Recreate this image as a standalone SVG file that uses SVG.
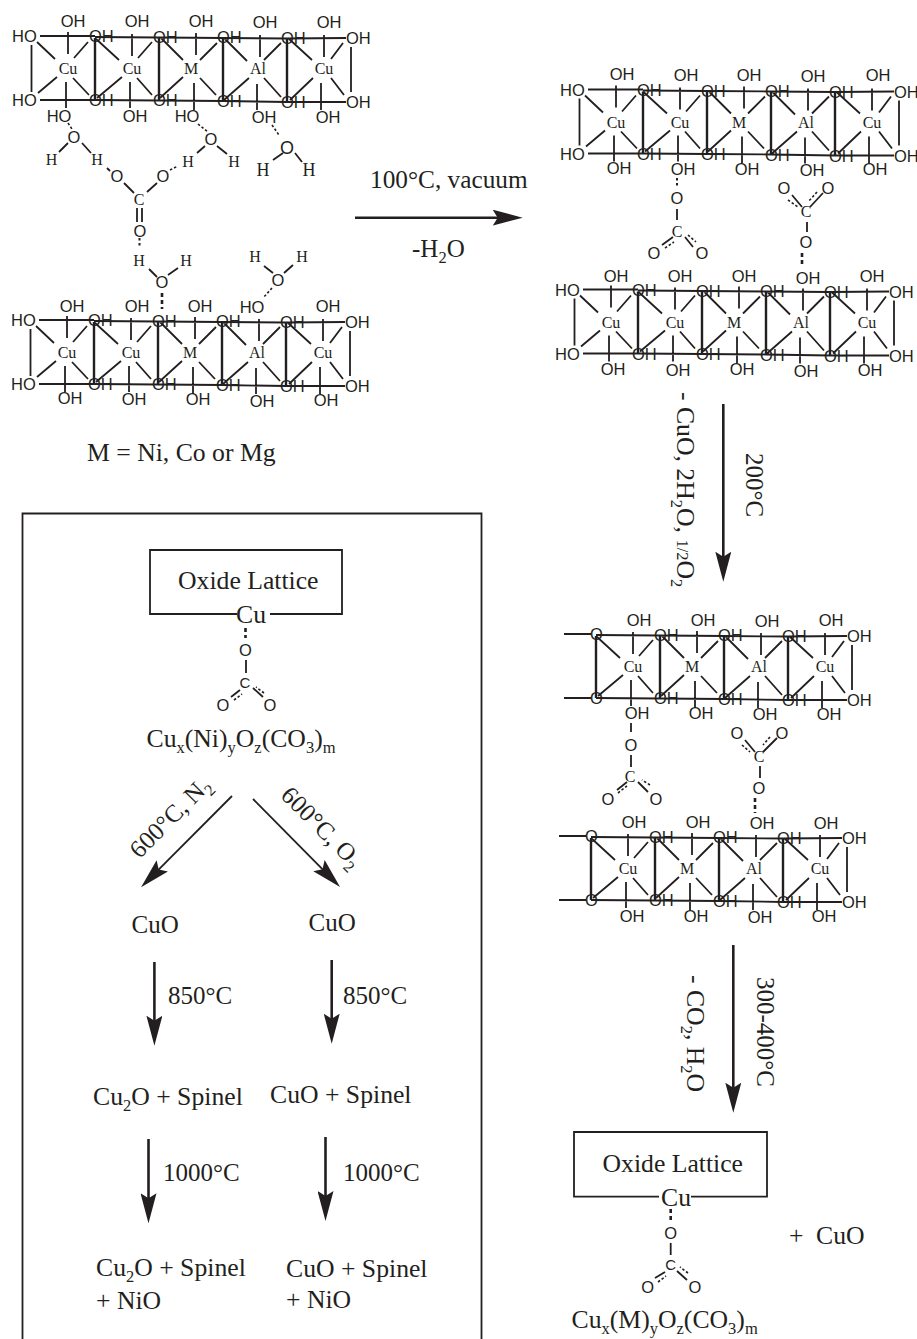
<svg xmlns="http://www.w3.org/2000/svg" xmlns:xlink="http://www.w3.org/1999/xlink" width="917" height="1339" viewBox="0 0 917 1339">
<style>
text{fill:#231f20}
.s{font-family:"Liberation Sans",Arial,sans-serif;font-size:16.5px}
.r{font-family:"Liberation Serif","Times New Roman",serif;font-size:16px}
.L{font-family:"Liberation Serif","Times New Roman",serif;font-size:25px}
.W{font-size:25.7px}
.sm{font-size:16.5px}
.m{text-anchor:middle}
.b{fill:none;stroke:#231f20;stroke-width:1.8}
.t{fill:none;stroke:#231f20;stroke-width:2.4}
.d{fill:none;stroke:#231f20;stroke-width:2;stroke-dasharray:2.5 2.5}
.dd{fill:none;stroke:#231f20;stroke-width:2.6;stroke-dasharray:4 3}
.f{fill:none;stroke:#231f20;stroke-width:1.6;stroke-dasharray:2.5 2}
.a{fill:none;stroke:#231f20;stroke-width:2.6;marker-end:url(#head)}
.a2{fill:none;stroke:#231f20;stroke-width:1.8;marker-end:url(#head)}
.box{fill:none;stroke:#231f20;stroke-width:1.8}
</style>
<defs>
<marker id="head" markerUnits="userSpaceOnUse" viewBox="0 0 30 16" refX="8" refY="8" markerWidth="30" markerHeight="16" orient="auto"><path d="M0 0L30 8L0 16L5 8Z" fill="#231f20"/></marker>
<g id="cell1" class="b">
<path d="M40 36H95M40 100H95M31.5 45V92M68 32V54M66 82V108M37 42L55 59M88 42L74 58M38 93L57 77M89 95L73 78"/>
</g>
<g id="stubs" class="b"><path d="M63 36H90M63 100H90"/></g>
<g id="cells">
<path class="b" d="M95 37L159 37.5L223 38L287 38.5L346 38M95 100L159 100.5L223 101L287 102L346 102M351 47V92M132 34V56M196 33V55M260 35V57M324 35V57M130 82V108M194 83V110M257 84V110M321 83V110M95 38L119 60M152 42L138 58M97 98L122 77M152 95L137 78M161 38L183 60M217 43L200 60M160 98L183 77M216 95L200 78M224 38L247 61M281 43L264 60M224 100L249 78M281 97L264 78M288 38L312 60M343 43L331 59M290 100L313 78M344 95L331 78"/>
<path class="t" d="M95 38V100M159 38V100M223 38V101M287 38V102"/>
</g>
</defs>
<rect width="917" height="1339" fill="#fff"/>

<g id="connectors">
<path class="a" d="M355 217.7H500.7"/>
<path class="a" d="M723.3 404V559.7"/>
<path class="a" d="M733.3 945V1090.7"/>
<path class="a2" d="M232 796L156.6 871.6"/>
<path class="a2" d="M253 799L324.6 871.4"/>
<path class="a" d="M154.4 962V1023.7"/>
<path class="a" d="M331.7 960V1021.7"/>
<path class="a" d="M148.5 1139V1201.3"/>
<path class="a" d="M325.5 1137V1199"/>
<!-- water and carbonate bonds, first stage -->
<path class="f" d="M68 123L72 129M198 124L208 132M170 170L178 166M272 125L279 135"/>
<path class="b" d="M59 152L68 143M82 143L91 153M107 168L110 171M124 183L134 193M147 192L157 183M197 153L205 146M217 146L227 154M273 160L283 153M295 153L302 162M137 208V222M142 208V222"/>
<path class="d" d="M139.5 238V247"/>
<path class="b" d="M149 269L157 277M168 275L178 268M264 266L273 273M284 273L293 265"/>
<path class="dd" d="M162 293V309"/>
<path class="f" d="M272 288L263 298"/>
<!-- second stage -->
<path class="d" d="M677 178V186"/>
<path class="b" d="M677 209V220M662 245L673 237M685 237L693 247"/>
<path class="f" d="M665 248L674 242M688 235L696 242"/>
<path class="b" d="M792 195L802 207M823 193L810 207M807 222V232"/>
<path class="f" d="M788 200L798 207M817 192L808 202"/>
<path class="dd" d="M802 253V267"/>
<!-- third stage -->
<path class="b" d="M631 723V732M631 755V767M617 790L627 782M648 792L638 782"/>
<path class="f" d="M618 793L627 786M650 785L642 780"/>
<path class="b" d="M745 740L755 752M777 738L763 752M760 766V778"/>
<path class="f" d="M742 745L750 752M770 737L763 745"/>
<path class="dd" d="M755 798V813"/>
<!-- oxide carbonate, boxed -->
<path class="dd" d="M245.5 628V638"/>
<path class="b" d="M246 660V673M231 697L240 690M263 697L253 688"/>
<path class="f" d="M234 700L242 694M264 693L256 687"/>
<!-- oxide carbonate, bottom -->
<path class="dd" d="M670.7 1209V1220"/>
<path class="b" d="M670.7 1243V1255M655 1278L665 1272M687 1280L677 1271"/>
<path class="f" d="M658 1282L666 1276M688 1273L680 1267"/>
</g>

<g id="lattice-1">
<use href="#cell1"/><use href="#cells"/>
<g class="s"><text x="12" y="42">HO</text><text x="12" y="106">HO</text>
<text x="89" y="42">OH</text><text x="153" y="43">OH</text><text x="217" y="43">OH</text><text x="281" y="44">OH</text><text x="346" y="44">OH</text>
<text x="89" y="106">OH</text><text x="153" y="106">OH</text><text x="217" y="107">OH</text><text x="281" y="108">OH</text><text x="346" y="108">OH</text>
<text class="m" x="73" y="27">OH</text><text class="m" x="137" y="27">OH</text><text class="m" x="201" y="27">OH</text><text class="m" x="265" y="28">OH</text><text class="m" x="329" y="28">OH</text>
<text class="m" x="59" y="122">HO</text><text class="m" x="135" y="122">OH</text><text class="m" x="187" y="122">HO</text><text class="m" x="264" y="123">OH</text><text class="m" x="328" y="123">OH</text></g>
<g class="r"><text class="m" x="68" y="74">Cu</text><text class="m" x="132" y="74">Cu</text><text class="m" x="191" y="74">M</text><text class="m" x="258" y="74">Al</text><text class="m" x="324" y="74">Cu</text></g>
</g>

<g id="lattice-2" transform="translate(-1 284)">
<use href="#cell1"/><use href="#cells"/>
<g class="s"><text x="12" y="42">HO</text><text x="12" y="106">HO</text>
<text x="89" y="42">OH</text><text x="153" y="43">OH</text><text x="217" y="43">OH</text><text x="281" y="44">OH</text><text x="346" y="44">OH</text>
<text x="89" y="106">OH</text><text x="153" y="106">OH</text><text x="217" y="107">OH</text><text x="281" y="108">OH</text><text x="346" y="108">OH</text>
<text class="m" x="73" y="28">OH</text><text class="m" x="138" y="28">OH</text><text class="m" x="201" y="28">OH</text><text class="m" x="253" y="29">HO</text><text class="m" x="329" y="28">OH</text>
<text class="m" x="71" y="120">OH</text><text class="m" x="135" y="121">OH</text><text class="m" x="199" y="121">OH</text><text class="m" x="263" y="123">OH</text><text class="m" x="327" y="122">OH</text></g>
<g class="r"><text class="m" x="68" y="74">Cu</text><text class="m" x="132" y="74">Cu</text><text class="m" x="191" y="74">M</text><text class="m" x="258" y="74">Al</text><text class="m" x="324" y="74">Cu</text></g>
</g>

<g id="lattice-3" transform="translate(548 53.5)">
<use href="#cell1"/><use href="#cells"/>
<g class="s"><text x="12" y="42">HO</text><text x="12" y="106">HO</text>
<text x="89" y="42">OH</text><text x="153" y="43">OH</text><text x="217" y="43">OH</text><text x="281" y="44">OH</text><text x="346" y="44">OH</text>
<text x="89" y="106">OH</text><text x="153" y="106">OH</text><text x="217" y="107">OH</text><text x="281" y="108">OH</text><text x="346" y="108">OH</text>
<text class="m" x="74" y="26">OH</text><text class="m" x="138" y="27">OH</text><text class="m" x="201" y="27">OH</text><text class="m" x="265" y="28">OH</text><text class="m" x="330" y="27">OH</text>
<text class="m" x="71" y="120">OH</text><text class="m" x="135" y="121">OH</text><text class="m" x="199" y="121">OH</text><text class="m" x="264" y="122">OH</text><text class="m" x="327" y="121">OH</text></g>
<g class="r"><text class="m" x="68" y="74">Cu</text><text class="m" x="132" y="74">Cu</text><text class="m" x="191" y="74">M</text><text class="m" x="258" y="74">Al</text><text class="m" x="324" y="74">Cu</text></g>
</g>

<g id="lattice-4" transform="translate(543 253.5)">
<use href="#cell1"/><use href="#cells"/>
<g class="s"><text x="12" y="42">HO</text><text x="12" y="106">HO</text>
<text x="89" y="42">OH</text><text x="153" y="43">OH</text><text x="217" y="43">OH</text><text x="281" y="44">OH</text><text x="346" y="44">OH</text>
<text x="89" y="106">OH</text><text x="153" y="106">OH</text><text x="217" y="107">OH</text><text x="281" y="108">OH</text><text x="346" y="108">OH</text>
<text class="m" x="73" y="28">OH</text><text class="m" x="137" y="28">OH</text><text class="m" x="201" y="28">OH</text><text class="m" x="265" y="30">OH</text><text class="m" x="329" y="28">OH</text>
<text class="m" x="70" y="121">OH</text><text class="m" x="135" y="122">OH</text><text class="m" x="199" y="121">OH</text><text class="m" x="263" y="123">OH</text><text class="m" x="327" y="122">OH</text></g>
<g class="r"><text class="m" x="68" y="74">Cu</text><text class="m" x="132" y="74">Cu</text><text class="m" x="191" y="74">M</text><text class="m" x="258" y="74">Al</text><text class="m" x="324" y="74">Cu</text></g>
</g>

<g id="lattice-5" transform="translate(501 598)">
<use href="#stubs"/><use href="#cells"/>
<g class="s"><text x="89" y="42">O</text><text x="153" y="43">OH</text><text x="217" y="43">OH</text><text x="281" y="44">OH</text><text x="346" y="44">OH</text>
<text x="89" y="106">O</text><text x="153" y="106">OH</text><text x="217" y="107">OH</text><text x="281" y="108">OH</text><text x="346" y="108">OH</text>
<text class="m" x="138" y="28">OH</text><text class="m" x="202" y="28">OH</text><text class="m" x="266" y="29">OH</text><text class="m" x="330" y="28">OH</text>
<text class="m" x="136" y="121">OH</text><text class="m" x="200" y="121">OH</text><text class="m" x="264" y="122">OH</text><text class="m" x="328" y="122">OH</text></g>
<g class="r"><text class="m" x="132" y="74">Cu</text><text class="m" x="191" y="74">M</text><text class="m" x="258" y="74">Al</text><text class="m" x="324" y="74">Cu</text></g>
</g>

<g id="lattice-6" transform="translate(496 800)">
<use href="#stubs"/><use href="#cells"/>
<g class="s"><text x="89" y="42">O</text><text x="153" y="43">OH</text><text x="217" y="43">OH</text><text x="281" y="44">OH</text><text x="346" y="44">OH</text>
<text x="89" y="106">O</text><text x="153" y="106">OH</text><text x="217" y="107">OH</text><text x="281" y="108">OH</text><text x="346" y="108">OH</text>
<text class="m" x="138" y="28">OH</text><text class="m" x="202" y="28">OH</text><text class="m" x="266" y="29">OH</text><text class="m" x="330" y="29">OH</text>
<text class="m" x="136" y="122">OH</text><text class="m" x="200" y="122">OH</text><text class="m" x="264" y="123">OH</text><text class="m" x="328" y="122">OH</text></g>
<g class="r"><text class="m" x="132" y="74">Cu</text><text class="m" x="191" y="74">M</text><text class="m" x="258" y="74">Al</text><text class="m" x="324" y="74">Cu</text></g>
</g>

<g id="water-carbonate-1">
<g class="s"><text class="m" x="74" y="143">O</text><text class="m" x="117" y="182">O</text><text class="m" x="163" y="182">O</text><text class="m" x="211" y="145">O</text><text class="m" x="140" y="237">O</text><text class="m" x="162" y="288">O</text><text class="m" x="278" y="286">O</text><text class="m" x="287" y="154" style="font-size:18px">O</text></g>
<g class="r"><text class="m" x="51.5" y="165">H</text><text class="m" x="97" y="165">H</text><text class="m" x="139" y="205">C</text><text class="m" x="188" y="167">H</text><text class="m" x="234" y="167">H</text><text class="m" x="139" y="266">H</text><text class="m" x="186" y="266">H</text><text class="m" x="255" y="262">H</text><text class="m" x="302" y="262">H</text>
<text class="m" x="263" y="176" style="font-size:18px">H</text><text class="m" x="309" y="176" style="font-size:18px">H</text></g>
</g>

<g id="carbonates-2">
<g class="s"><text class="m" x="677" y="204">O</text><text class="m" x="654" y="259">O</text><text class="m" x="702" y="259">O</text><text class="m" x="784" y="194">O</text><text class="m" x="828" y="194">O</text><text class="m" x="806" y="248">O</text></g>
<g class="r"><text class="m" x="677" y="237">C</text><text class="m" x="806" y="217">C</text></g>
</g>
<g id="carbonates-3">
<g class="s"><text class="m" x="631" y="751">O</text><text class="m" x="608" y="805">O</text><text class="m" x="656" y="805">O</text><text class="m" x="737" y="739">O</text><text class="m" x="782" y="739">O</text><text class="m" x="759" y="794">O</text></g>
<g class="r"><text class="m" x="630" y="782">C</text><text class="m" x="759" y="762">C</text></g>
</g>

<g id="label-100C"><text class="L" x="370" y="188" style="font-size:25.3px">100°C, vacuum</text></g>
<g id="label-h2o"><text class="L" x="412" y="257">-H<tspan class="sm" dy="6">2</tspan><tspan dy="-6">O</tspan></text></g>
<g id="label-M"><text class="L W" x="87" y="461">M = Ni, Co or Mg</text></g>
<g id="label-200"><text class="L" transform="translate(746 453) rotate(90)">200°C</text></g>
<g id="label-200b"><text class="L W" transform="translate(677 392) rotate(90)">- CuO, 2H<tspan class="sm" dy="6">2</tspan><tspan dy="-6">O, </tspan><tspan style="font-size:16.5px">1/2</tspan>O<tspan class="sm" dy="6">2</tspan></text></g>
<g id="label-300"><text class="L" transform="translate(757.3 977) rotate(90)">300-400°C</text></g>
<g id="label-300b"><text class="L W" transform="translate(686.7 975) rotate(90)">- CO<tspan class="sm" dy="6">2</tspan><tspan dy="-6">, H</tspan><tspan class="sm" dy="6">2</tspan><tspan dy="-6">O</tspan></text></g>

<g id="panel"><path class="box" d="M22.5 1340V513.5H481.5V1340"/></g>

<g id="oxide-1">
<path class="box" d="M237 614H150V550H342V614H270"/>
<text class="L W" x="178" y="589">Oxide Lattice</text>
<text class="L W m" x="251" y="623">Cu</text>
<text class="s m" x="245.5" y="655.5">O</text>
<text class="s m" x="245" y="688" style="font-size:15px">C</text>
<text class="s m" x="223" y="710.5">O</text>
<text class="s m" x="270" y="710.5">O</text>
</g>
<g id="formula-1"><text class="L W" x="146.5" y="747">Cu<tspan class="sm" dy="6">x</tspan><tspan dy="-6">(Ni)</tspan><tspan class="sm" dy="6">y</tspan><tspan dy="-6">O</tspan><tspan class="sm" dy="6">z</tspan><tspan dy="-6">(CO</tspan><tspan class="sm" dy="6">3</tspan><tspan dy="-6">)</tspan><tspan class="sm" dy="6">m</tspan></text></g>
<g id="label-600n"><text class="L m" transform="translate(176 823) rotate(-45)">600°C, N<tspan class="sm" dy="6">2</tspan></text></g>
<g id="label-600o"><text class="L m" transform="translate(316 833) rotate(45)">600°C, O<tspan class="sm" dy="6">2</tspan></text></g>
<g id="cuo-l"><text class="L" x="131.5" y="933">CuO</text></g>
<g id="cuo-r"><text class="L" x="308.5" y="931">CuO</text></g>
<g id="t850-l"><text class="L" x="168" y="1004">850°C</text></g>
<g id="t850-r"><text class="L" x="343" y="1004">850°C</text></g>
<g id="sp-l"><text class="L W" x="93" y="1105">Cu<tspan class="sm" dy="6">2</tspan><tspan dy="-6">O + Spinel</tspan></text></g>
<g id="sp-r"><text class="L W" x="270" y="1103">CuO + Spinel</text></g>
<g id="t1000-l"><text class="L" x="163" y="1181">1000°C</text></g>
<g id="t1000-r"><text class="L" x="343" y="1181">1000°C</text></g>
<g id="end-l"><text class="L W" x="96" y="1276">Cu<tspan class="sm" dy="6">2</tspan><tspan dy="-6">O + Spinel</tspan></text><text class="L W" x="96" y="1309">+ NiO</text></g>
<g id="end-r"><text class="L W" x="286" y="1277">CuO + Spinel</text><text class="L W" x="286" y="1308">+ NiO</text></g>

<g id="oxide-2">
<path class="box" d="M659 1196.7H574V1132H767V1196.7H691"/>
<text class="L W" x="602.5" y="1172">Oxide Lattice</text>
<text class="L W m" x="676" y="1206">Cu</text>
<text class="s m" x="670.7" y="1238.5">O</text>
<text class="s m" x="670.7" y="1270" style="font-size:15px">C</text>
<text class="s m" x="647.7" y="1292.5">O</text>
<text class="s m" x="695" y="1292.5">O</text>
</g>
<g id="plus-cuo"><text class="L W" x="789" y="1244">+ <tspan x="816">CuO</tspan></text></g>
<g id="formula-2"><text class="L W" x="571.5" y="1328">Cu<tspan class="sm" dy="6">x</tspan><tspan dy="-6">(M)</tspan><tspan class="sm" dy="6">y</tspan><tspan dy="-6">O</tspan><tspan class="sm" dy="6">z</tspan><tspan dy="-6">(CO</tspan><tspan class="sm" dy="6">3</tspan><tspan dy="-6">)</tspan><tspan class="sm" dy="6">m</tspan></text></g>
</svg>
